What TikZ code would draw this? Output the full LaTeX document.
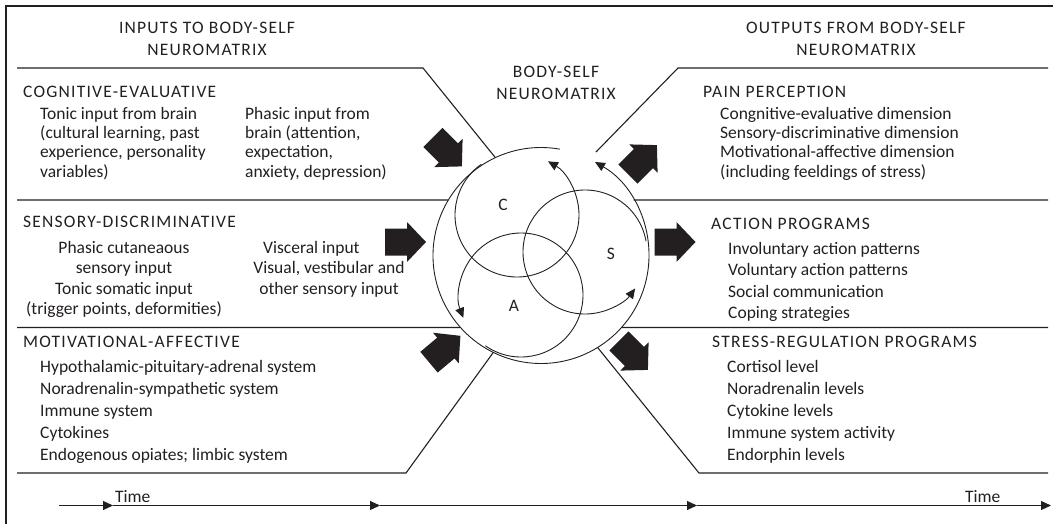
\documentclass[tikz,border=0pt]{standalone}
\usepackage{fontspec}
\setmainfont{Carlito}
\newfontfamily\capsfont[LetterSpace=7]{Carlito}
\usetikzlibrary{arrows.meta,calc}
\definecolor{ink}{RGB}{35,31,32}
\newcommand\blkL[2]{\vtop{\baselineskip=#1\lineskip=0pt\lineskiplimit=-100pt\halign{##\hfil\cr#2\crcr}}}
\newcommand\blkC[2]{\vtop{\baselineskip=#1\lineskip=0pt\lineskiplimit=-100pt\halign{\hfil##\hfil\cr#2\crcr}}}
\begin{document}
\begin{tikzpicture}[x=1pt,y=1pt,
  txt/.style={inner sep=0pt, anchor=base west, text=ink, font=\fontsize{17.5}{21}\selectfont},
  ctxt/.style={txt, anchor=base},
  captxt/.style={txt, font=\capsfont\fontsize{17.5}{21}\selectfont},
  ccaptxt/.style={captxt, anchor=base},
  frame/.style={draw=ink, line width=1.4pt},
  sep/.style={draw=ink, line width=1.1pt},
  ring/.style={draw=ink, line width=0.9pt},
  tip/.style={-{Triangle[length=10pt,width=9pt]}},
  fatarrow/.pic={\fill[ink] (-20.5,-13.5) -- (1.5,-13.5) -- (1.5,-20) -- (20.5,0) -- (1.5,20) -- (1.5,13.5) -- (-20.5,13.5) -- cycle;}
]
\useasboundingbox (0,0) rectangle (1053,-523);
% frame
\draw[frame] (6,-530) -- (6,-6) -- (1060,-6);
% neuromatrix centres
\coordinate (M) at (541,-255.5);
\coordinate (Cc) at (517,-215);
\coordinate (Sc) at (585,-252);
\coordinate (Ac) at (521,-295);
% separators, left
\coordinate (hl0) at (17,-68);
\coordinate (hl1) at (423,-68);
\draw[sep] (hl0) -- (hl1) -- ($(M)+(115:108)$);
\coordinate (s1l) at (17,-200);
\draw[sep] (s1l) -- ($(M)+(149.1:108)$);
\coordinate (s2l) at (17,-327.5);
\draw[sep] (s2l) -- ($(M)+(221.8:108)$);
\coordinate (bl0) at (17,-473);
\coordinate (bl1) at (406,-473);
\draw[sep] (bl0) -- (bl1) -- ($(M)+(243.8:108)$);
% separators, right
\coordinate (hr0) at (1048,-68);
\coordinate (hr1) at (678,-68);
\coordinate (hr2) at (596,-152);
\draw[sep] (hr0) -- (hr1) -- (hr2);
\coordinate (s1r) at (1048,-200);
\draw[sep] ($(M)+(30.9:108)$) -- (s1r);
\coordinate (s2r) at (1048,-327.5);
\draw[sep] ($(M)+(-41.8:108)$) -- (s2r);
\coordinate (br0) at (1048,-473);
\coordinate (br1) at (699,-473);
\draw[sep] (br0) -- (br1) -- ($(M)+(-58.4:108)$);
% rings
\draw[ring,tip] ($(M)+(80:108)$) arc[start angle=80, end angle=420, radius=108];
\draw[ring,tip] ($(Cc)+(125:62)$) arc[start angle=125, end angle=420, radius=62];
\draw[ring,tip] ($(Sc)+(10:62)$) arc[start angle=10, end angle=324, radius=62];
\draw[ring,tip] ($(Ac)+(235:62)$) arc[start angle=235, end angle=561.6, radius=62];
\node[txt, anchor=center] (lc) at (503,-204.5) {C};
\node[txt, anchor=center] (ls) at (611,-253.5) {S};
\node[txt, anchor=center] (la) at (514,-305.5) {A};
% fat arrows
\pic at (405.5,-242) {fatarrow};
\pic at (675,-242) {fatarrow};
\pic[rotate=-45] at (447.4,-151.9) {fatarrow};
\pic[rotate=45] at (642.4,-159.6) {fatarrow};
\pic[rotate=40] at (444.7,-349) {fatarrow};
\pic[rotate=-45] at (633.4,-355.4) {fatarrow};
% headers
\node[ccaptxt] (hin) at (207,-33) {\blkC{22pt}{INPUTS TO BODY-SELF\cr NEUROMATRIX}};
\node[ccaptxt] (hout) at (856,-33) {\blkC{22pt}{OUTPUTS FROM BODY-SELF\cr NEUROMATRIX}};
\node[ccaptxt] (hmid) at (556,-77) {\blkC{22pt}{BODY-SELF\cr NEUROMATRIX}};
% cognitive
\node[captxt] (cog) at (23,-97) {COGNITIVE-EVALUATIVE};
\node[txt] (cog1) at (40,-119) {\blkL{19.4pt}{Tonic input from brain\cr (cultural learning, past\cr experience, personality\cr variables)}};
\node[txt] (cog2) at (245,-119) {\blkL{19.4pt}{Phasic input from\cr brain (attention,\cr expectation,\cr anxiety, depression)}};
% sensory
\node[captxt] (sen) at (23,-227) {SENSORY-DISCRIMINATIVE};
\node[ctxt] (sen1) at (124,-253) {\blkC{20.5pt}{Phasic cutaneaous\cr sensory input\cr Tonic somatic input\cr (trigger points, deformities)}};
\node[txt] (sen2) at (263,-253) {Visceral input};
\node[ctxt] (sen3) at (329,-273.5) {\blkC{20.5pt}{Visual, vestibular and\cr other sensory input}};
% motivational
\node[captxt] (mot) at (23,-347) {MOTIVATIONAL-AFFECTIVE};
\node[txt] (mot1) at (40,-372.3) {\blkL{22.1pt}{Hypothalamic-pituitary-adrenal system\cr Noradrenalin-sympathetic system\cr Immune system\cr Cytokines\cr Endogenous opiates; limbic system}};
% outputs
\node[captxt] (pain) at (703,-97) {PAIN PERCEPTION};
\node[txt] (pain1) at (720,-119) {\blkL{19.4pt}{Congnitive-evaluative dimension\cr Sensory-discriminative dimension\cr Motivational-affective dimension\cr (including feeldings of stress)}};
\node[captxt] (act) at (711,-229) {ACTION PROGRAMS};
\node[txt] (act1) at (728,-254) {\blkL{21.5pt}{Involuntary action patterns\cr Voluntary action patterns\cr Social communication\cr Coping strategies}};
\node[captxt] (str) at (712,-347) {STRESS-REGULATION PROGRAMS};
\node[txt] (str1) at (727,-372) {\blkL{22pt}{Cortisol level\cr Noradrenalin levels\cr Cytokine levels\cr Immune system activity\cr Endorphin levels}};
% time axis
\coordinate (t0) at (59,-505.5);
\coordinate (t1) at (113,-505.5);
\coordinate (t2) at (380,-505.5);
\coordinate (t3) at (697,-505.5);
\coordinate (t4) at (1051,-505.5);
\draw[sep,tip] (t0) -- (t1);
\draw[sep,tip] (t1) -- (t2);
\draw[sep,tip] (t2) -- (t3);
\draw[sep,tip] (t3) -- (t4);
\node[txt] (time1) at (115,-502) {Time};
\node[txt] (time2) at (965,-502) {Time};
\end{tikzpicture}
\end{document}
